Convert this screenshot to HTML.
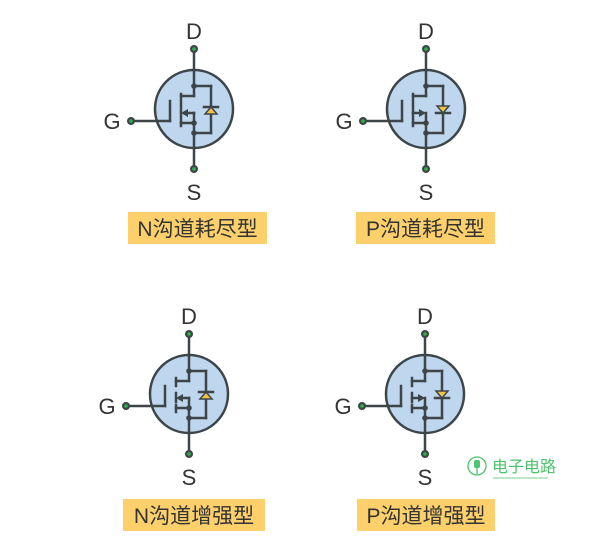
<!DOCTYPE html>
<html><head><meta charset="utf-8"><style>
body{margin:0;background:#fff;}
svg{display:block;font-family:"Liberation Sans","Noto Sans CJK SC",sans-serif;}
</style></head><body>
<svg id="s" width="609" height="558" viewBox="0 0 609 558">
<g>
<circle cx="477" cy="466" r="9" fill="none" stroke="#4cc36e" stroke-width="1.3"/>
<rect x="474" y="460" width="6" height="8" rx="2" fill="#4cc36e"/>
<line x1="477" y1="468" x2="477" y2="474" stroke="#4cc36e" stroke-width="1.3"/>
<text x="492" y="472" font-size="16" fill="#4cc36e">电子电路</text>
<line x1="493" y1="478" x2="548" y2="478" stroke="#4cc36e" stroke-width="0.8"/>
</g>
</svg>
<script>
const NS="http://www.w3.org/2000/svg";
const svg=document.getElementById('s');
const devices=[
 {cx:194,cy:109,type:'N',enh:false,label:'N沟道耗尽型',bx:128,by:212,bw:139},
 {cx:426,cy:109,type:'P',enh:false,label:'P沟道耗尽型',bx:356,by:212,bw:139},
 {cx:189,cy:394,type:'N',enh:true,label:'N沟道增强型',bx:123,by:499,bw:142},
 {cx:425,cy:394,type:'P',enh:true,label:'P沟道增强型',bx:357,by:499,bw:138}
];
const C='#3d4548';
function el(tag,attrs,parent){const e=document.createElementNS(NS,tag);for(const k in attrs)e.setAttribute(k,attrs[k]);parent.appendChild(e);return e;}
function line(g,x1,y1,x2,y2){el('line',{x1,y1,x2,y2,stroke:C,'stroke-width':2.5,'stroke-linecap':'square'},g);}
function dot(g,x,y,big){el('circle',{cx:x,cy:y,r:big?4:2.8,fill:C},g);if(big)el('circle',{cx:x,cy:y,r:1.8,fill:'#2db14c'},g);}
devices.forEach((d,i)=>{
 const g=el('g',{},svg);
 
 
 const x=d.cx,y=d.cy;
 const c=el('circle',{cx:x,cy:y,r:39,fill:'#bed6ee',stroke:C,'stroke-width':2.5},g);
 
 
 line(g,x,y-60,x,y-13);
 line(g,x,y+4,x,y+60);
 line(g,x-63,y+12,x-24,y+12);
 line(g,x-24,y+12,x-24,y-8);
 if(d.enh){line(g,x-13,y-16,x-13,y-8);line(g,x-13,y-1,x-13,y+8);line(g,x-13,y+11,x-13,y+18);}
 else line(g,x-13,y-15,x-13,y+17);
 line(g,x-13,y-13,x,y-13);
 line(g,x-13,y+14,x,y+14);
 line(g,x,y-23,x+17,y-23);line(g,x+17,y-23,x+17,y+24);line(g,x+17,y+24,x,y+24);
 if(d.type==='N'){line(g,x-7,y+4,x,y+4);el('polygon',{points:`${x-13},${y+4} ${x-6},${y} ${x-6},${y+8}`,fill:C},g);}
 else{line(g,x-13,y+4,x-6,y+4);el('polygon',{points:`${x},${y+4} ${x-7},${y} ${x-7},${y+8}`,fill:C},g);}
 if(d.type==='N'){
  el('polygon',{points:`${x+11},${y+5} ${x+23},${y+5} ${x+17},${y-2}`,fill:'#f6c343',stroke:C,'stroke-width':1.5},g);
  line(g,x+10,y-2,x+24,y-2);
 }else{
  el('polygon',{points:`${x+11},${y-3} ${x+23},${y-3} ${x+17},${y+4}`,fill:'#f6c343',stroke:C,'stroke-width':1.5},g);
  line(g,x+10,y+4,x+24,y+4);
 }
 dot(g,x,y-23);dot(g,x,y+14);dot(g,x,y+24);
 dot(g,x,y-60,true);dot(g,x,y+60,true);dot(g,x-63,y+12,true);
 const tD=el('text',{x:x,y:y-70,'font-size':22,fill:'#333','text-anchor':'middle'},g);tD.textContent='D';
 
 
 const tS=el('text',{x:x,y:y+91,'font-size':22,fill:'#333','text-anchor':'middle'},g);tS.textContent='S';
 
 
 const tG=el('text',{x:x-82,y:y+20,'font-size':22,fill:'#333','text-anchor':'middle'},g);tG.textContent='G';
 
 
 const b=el('rect',{x:d.bx,y:d.by,width:d.bw,height:32,fill:'#fdd06c'},g);
 
 
 const t=el('text',{x:d.bx+d.bw/2,y:d.by+24,'font-size':21,fill:'#333','text-anchor':'middle'},g);t.textContent=d.label;
 
 
});
</script>
</body></html>
